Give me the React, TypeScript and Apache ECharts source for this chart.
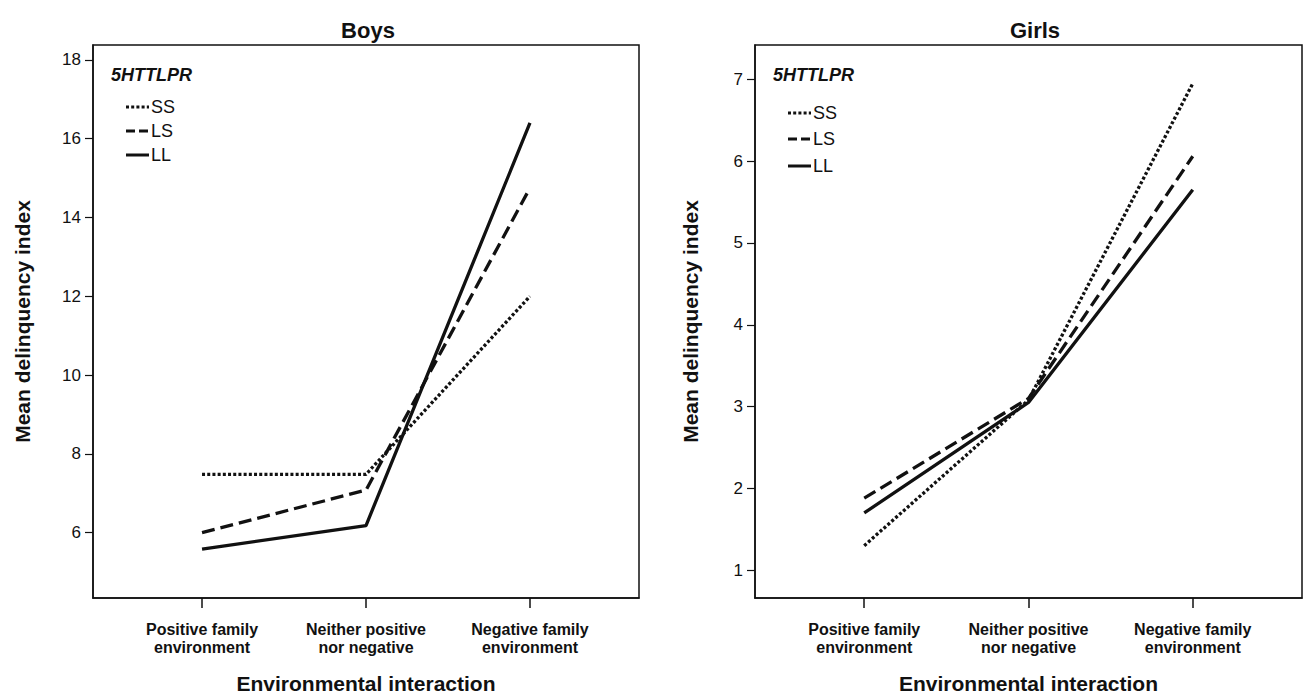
import React, { useEffect, useRef } from "react";
import * as echarts from "echarts";

const categories = ["Positive family\nenvironment", "Neither positive\nnor negative", "Negative family\nenvironment"];
const catPositions = [0, 1, 2];

const boysSS = [7.48, 7.48, 12.0];
const boysLS = [6.0, 7.08, 14.75];
const boysLL = [5.58, 6.18, 16.4];

const girlsSS = [1.3, 3.08, 6.95];
const girlsLS = [1.88, 3.1, 6.06];
const girlsLL = [1.7, 3.05, 5.65];

const boysTicks = [6, 8, 10, 12, 14, 16, 18];
const girlsTicks = [1, 2, 3, 4, 5, 6, 7];

const genotypes = ["SS", "LS", "LL"];
const FONT = "Liberation Sans, Arial, sans-serif";
const INK = "#111";

const lineTypes: any[] = [[3, 2.2], [13, 6], "solid"];

function toPts(vals: number[]) {
  return vals.map((v, i) => [catPositions[i], v]);
}

export default function App() {
  const ref = useRef<HTMLDivElement>(null);
  useEffect(() => {
    if (!ref.current) return;
    const chart = echarts.init(ref.current, undefined, { renderer: "svg" });

    const xAxisBase = (gridIndex: number) => ({
      type: "value",
      gridIndex,
      min: -0.665,
      max: 2.665,
      axisLine: { show: true, onZero: false, lineStyle: { color: INK, width: 1.5 } },
      axisTick: { show: true, customValues: catPositions, length: 10, lineStyle: { color: INK, width: 1.5 } },
      axisLabel: {
        customValues: catPositions,
        formatter: (v: number) => categories[Math.round(v)] ?? "",
        fontFamily: FONT,
        fontWeight: "bold",
        fontSize: 16,
        lineHeight: 18,
        color: INK,
        margin: 22,
      },
      splitLine: { show: false },
      name: "Environmental interaction",
      nameLocation: "middle",
      nameGap: 75,
      nameTextStyle: { fontFamily: FONT, fontWeight: "bold", fontSize: 21, color: INK },
    });

    const yAxisBase = (gridIndex: number, min: number, max: number, ticks: number[], gap: number) => ({
      type: "value",
      gridIndex,
      min,
      max,
      axisLine: { show: true, onZero: false, lineStyle: { color: INK, width: 1.5 } },
      axisTick: { show: true, customValues: ticks, length: 8, lineStyle: { color: INK, width: 1.2 } },
      axisLabel: {
        customValues: ticks,
        fontFamily: FONT,
        fontSize: 17,
        color: INK,
        margin: 12,
      },
      splitLine: { show: false },
      name: "Mean delinquency index",
      nameLocation: "middle",
      nameGap: gap,
      nameTextStyle: { fontFamily: FONT, fontWeight: "bold", fontSize: 21, color: INK },
    });

    const mkSeries = (vals: number[], idx: number, k: number) => ({
      type: "line",
      name: genotypes[k],
      xAxisIndex: idx,
      yAxisIndex: idx,
      data: toPts(vals),
      symbol: "none",
      lineStyle: { color: INK, width: 3.3, type: lineTypes[k] },
    });

    const legend = (x0: number, y0: number, ys: number[]) => {
      const els: any[] = [
        {
          type: "text",
          left: x0,
          top: y0 - 11,
          style: { text: "5HTTLPR", font: `italic bold 18px ${FONT}`, fill: INK },
        },
      ];
      ys.forEach((y, k) => {
        els.push({
          type: "line",
          shape: { x1: x0 + 15, y1: y, x2: x0 + 38, y2: y },
          style: { stroke: INK, lineWidth: 3, lineDash: k === 2 ? null : k === 0 ? [3, 2.2] : [9, 4] },
        });
        els.push({
          type: "text",
          x: x0 + 40,
          y: y,
          style: { text: genotypes[k], font: `18px ${FONT}`, fill: INK, verticalAlign: "middle" },
        });
      });
      return els;
    };

    chart.setOption({
      animation: false,
      backgroundColor: "#fff",
      title: [
        { text: "Boys", left: 363, top: 14, textAlign: "center", textStyle: { fontFamily: FONT, fontWeight: "bold", fontSize: 22, color: INK } },
        { text: "Girls", left: 1030, top: 14, textAlign: "center", textStyle: { fontFamily: FONT, fontWeight: "bold", fontSize: 22, color: INK } },
      ],
      grid: [
        { left: 93, top: 45, width: 546, height: 559, show: true, borderColor: INK, borderWidth: 1.5, backgroundColor: "transparent" },
        { left: 755, top: 45, width: 547, height: 559, show: true, borderColor: INK, borderWidth: 1.5, backgroundColor: "transparent" },
      ],
      xAxis: [xAxisBase(0), xAxisBase(1)],
      yAxis: [yAxisBase(0, 4.34, 18.38, boysTicks, 60), yAxisBase(1, 0.66, 7.42, girlsTicks, 54)],
      series: [
        mkSeries(boysSS, 0, 0),
        mkSeries(boysLS, 0, 1),
        mkSeries(boysLL, 0, 2),
        mkSeries(girlsSS, 1, 0),
        mkSeries(girlsLS, 1, 1),
        mkSeries(girlsLL, 1, 2),
      ],
      graphic: [...legend(111, 77, [107, 131, 155]), ...legend(773, 77, [113, 139, 166])],
    });
    return () => chart.dispose();
  }, []);
  return (
    <div
      ref={ref}
      style={{ position: "fixed", left: 0, top: 0, width: 1310, height: 699, background: "#fff" }}
    />
  );
}
